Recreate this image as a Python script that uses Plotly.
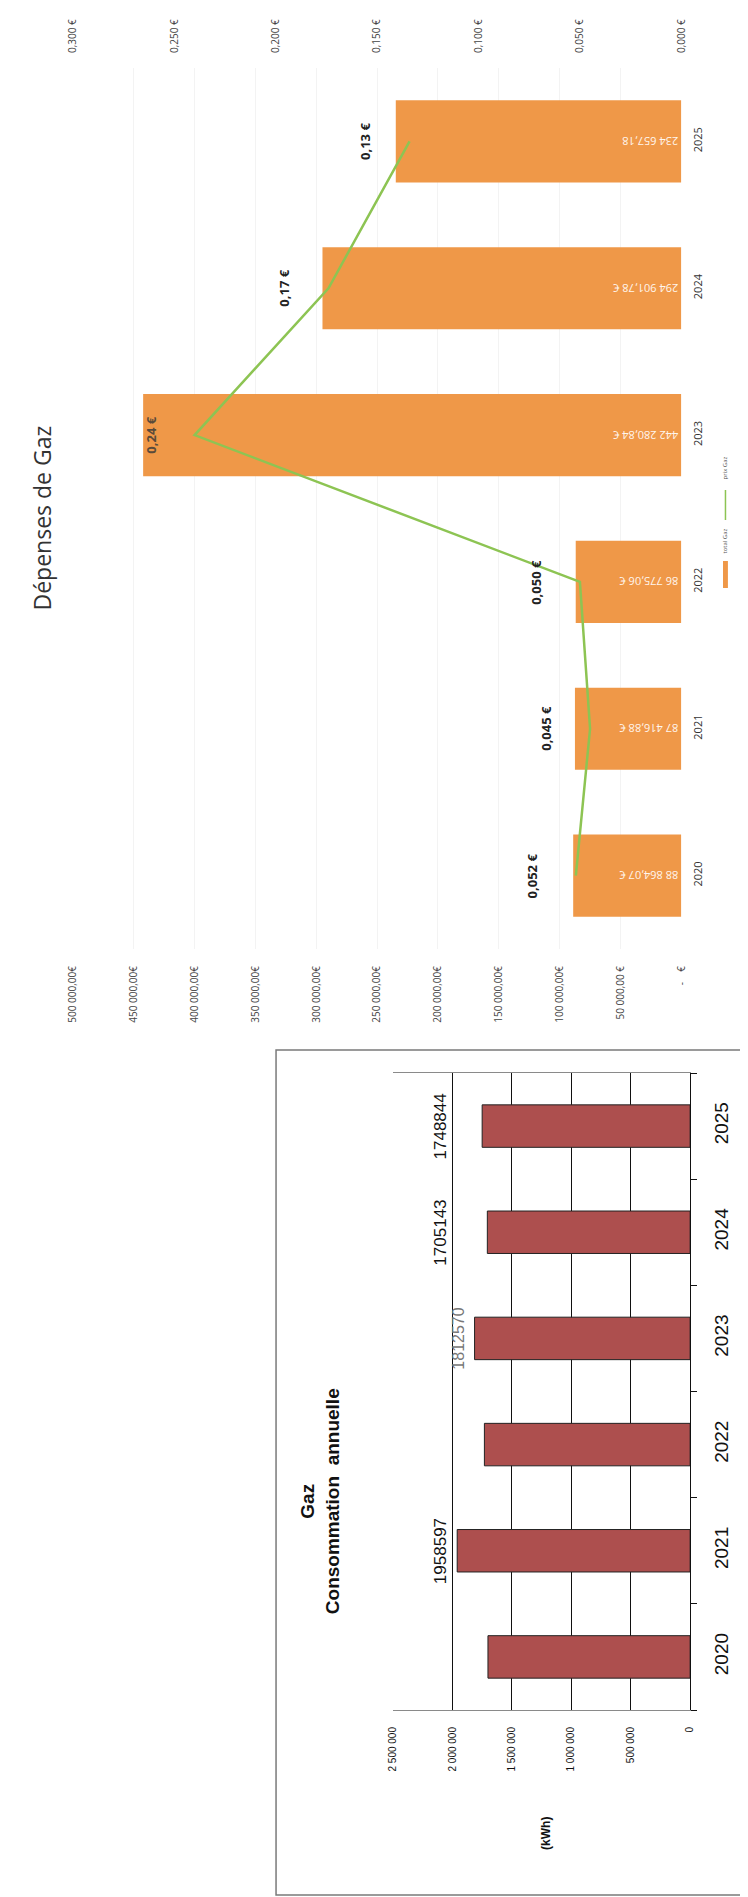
import plotly.graph_objects as go

# ---------------- data ----------------
years = ['2020', '2021', '2022', '2023', '2024', '2025']

# Dépenses de Gaz (bars, €)
depenses = [88864.07, 87416.88, 86775.06, 442280.84, 294901.78, 234657.18]
depenses_labels = ['88 864,07 €', '87 416,88 €', '86 775,06 €', '442 280,84 €', '294 901,78 €', '234 657,18']

# prix du kWh gaz (line, €)
prix = [0.052, 0.045, 0.050, 0.240, 0.174, 0.134]
prix_labels = ['0,052 €', '0,045 €', '0,050 €', '0,24 €', '0,17 €', '0,13 €']

# Consommation annuelle (kWh)
conso = [1700000, 1958597, 1730000, 1812570, 1705143, 1748844]
conso_labels = ['', '1958597', '', '1812570', '1705143', '1748844']

amount_ticks = [0, 50000, 100000, 150000, 200000, 250000, 300000, 350000, 400000, 450000, 500000]
amount_ticktext = ['-    €', '50 000,00 €', '100 000,00€', '150 000,00€', '200 000,00€', '250 000,00€',
                   '300 000,00€', '350 000,00€', '400 000,00€', '450 000,00€', '500 000,00€']
price_ticks = [0, 0.05, 0.10, 0.15, 0.20, 0.25, 0.30]
price_ticktext = ['0,000 €', '0,050 €', '0,100 €', '0,150 €', '0,200 €', '0,250 €', '0,300 €']
kwh_ticks = [0, 500000, 1000000, 1500000, 2000000, 2500000]
kwh_ticktext = ['0', '500 000', '1 000 000', '1 500 000', '2 000 000', '2 500 000']

# ---------------- layout helpers ----------------
W, H = 748, 1897
def px(v):
    return v / W
def py(v):
    return 1 - v / H

ORANGE = '#ef9848'
GREEN = '#8dc453'
RED = '#ad4f4e'
FONT_TOP = 'Open Sans'
FONT_BOT = 'Liberation Sans'
CAT_RANGE = [-0.5, len(years) - 0.5]

fig = go.Figure()

# Top chart: bars (amount)
fig.add_trace(go.Bar(
    y=years, x=depenses, orientation='h',
    xaxis='x', yaxis='y',
    marker=dict(color=ORANGE, line=dict(width=0)),
    text=depenses_labels, textposition='inside', insidetextanchor='start',
    textangle=180, textfont=dict(color='#fff6ee', size=11, family='Liberation Sans Narrow, Open Sans'),
    constraintext='none',
    name='total Gaz', showlegend=False,
))

# Top chart: price line
fig.add_trace(go.Scatter(
    y=years, x=prix, xaxis='x2', yaxis='y',
    mode='lines', line=dict(color=GREEN, width=2.5),
    name='prix Gaz', showlegend=False,
))

# Bottom chart: consumption bars
fig.add_trace(go.Bar(
    y=years, x=conso, orientation='h',
    xaxis='x3', yaxis='y3', width=0.4,
    marker=dict(color=RED, line=dict(color='#222222', width=1)),
    showlegend=False,
))

annotations = []

# price labels (category axis -> use category index)
for i, (pv, lab) in enumerate(zip(prix, prix_labels)):
    annotations.append(dict(
        x=pv, y=i, xref='x2', yref='y', text='<b>' + lab + '</b>',
        xanchor='center', yanchor='middle',
        showarrow=False, textangle=-90, xshift=-44,
        font=dict(size=13, family=FONT_TOP, color='#5a4a3a' if years[i] == '2023' else '#222222'),
    ))

# consumption labels
label_x = 2100000
for i, lab in enumerate(conso_labels):
    if not lab:
        continue
    special = (years[i] == '2023')
    annotations.append(dict(
        x=1950000 if special else label_x, y=i, xref='x3', yref='y3', text=lab,
        xanchor='center', yanchor='middle',
        showarrow=False, textangle=-90,
        font=dict(size=16 if special else 17, family=FONT_BOT,
                  color='#777777' if special else '#111111'),
    ))

def paper_text(x, y, text, size, family, color):
    annotations.append(dict(
        x=px(x), y=py(y), xref='paper', yref='paper', text=text,
        xanchor='center', yanchor='middle', showarrow=False, textangle=-90,
        font=dict(size=size, family=family, color=color),
    ))

# titles
paper_text(26, 510, 'Dépenses de Gaz', 23, FONT_TOP, '#333333')
paper_text(310, 1493, '<b>Gaz</b><br><b>Consommation  annuelle</b>', 19, FONT_BOT, '#111111')
paper_text(540, 1825, '<b>(kWh)</b>', 12, FONT_BOT, '#111111')

# legend (rotated)
paper_text(723, 533, 'total Gaz', 6, FONT_TOP, '#555555')
paper_text(723, 460, 'prix Gaz', 6, FONT_TOP, '#555555')

shapes = [
    # legend swatches
    dict(type='rect', xref='paper', yref='paper', x0=px(720.5), x1=px(725.5),
         y0=py(580), y1=py(553), fillcolor=ORANGE, line=dict(width=0)),
    dict(type='line', xref='paper', yref='paper', x0=px(723), x1=px(723),
         y0=py(512), y1=py(482), line=dict(color=GREEN, width=1.5)),
    # outer frame of the consumption chart
    dict(type='rect', xref='paper', yref='paper', x0=px(265), x1=px(743),
         y0=py(1887), y1=py(1042), line=dict(color='#7a7a7a', width=1.5)),
]

fig.update_layout(
    width=W, height=H,
    margin=dict(l=0, r=0, t=0, b=0),
    paper_bgcolor='white', plot_bgcolor='rgba(0,0,0,0)',
    separators=', ',
    bargap=0.44,
    annotations=annotations,
    shapes=shapes,
    xaxis=dict(
        domain=[px(58), px(678)], range=[500000, 0], anchor='y', side='bottom',
        tickvals=amount_ticks, ticktext=amount_ticktext, tickangle=-90,
        tickfont=dict(size=10, family=FONT_TOP, color='#444444'),
        showgrid=True, gridcolor='#f3f3f3', gridwidth=1, zeroline=False,
        showline=False, ticks='', ticklabelstandoff=14,
    ),
    xaxis2=dict(
        overlaying='x', range=[0.3, 0], anchor='y', side='top',
        tickvals=price_ticks, ticktext=price_ticktext, tickangle=-90,
        tickfont=dict(size=10, family=FONT_TOP, color='#444444'),
        showgrid=False, zeroline=False, showline=False, ticks='', ticklabelstandoff=14,
    ),
    yaxis=dict(
        domain=[py(941), py(60)], anchor='x', side='right', type='category',
        categoryorder='array', categoryarray=years, range=CAT_RANGE, autorange=False,
        tickangle=-90, tickfont=dict(size=11, family=FONT_TOP, color='#333333'),
        showgrid=False, zeroline=False, showline=False, ticks='', ticklabelstandoff=9,
    ),
    xaxis3=dict(
        domain=[px(384), px(687)], range=[2500000, 0], anchor='y3', side='bottom',
        tickvals=kwh_ticks, ticktext=kwh_ticktext, tickangle=-90,
        tickfont=dict(size=10, family=FONT_BOT, color='#111111'),
        showgrid=True, gridcolor='#111111', gridwidth=1, zeroline=False,
        showline=True, linecolor='#8a8a8a', linewidth=1, mirror=True,
        ticks='', ticklabelstandoff=12,
    ),
    yaxis3=dict(
        domain=[py(1702), py(1065)], anchor='x3', side='right', type='category',
        categoryorder='array', categoryarray=years, range=CAT_RANGE, autorange=False,
        tickangle=-90, tickfont=dict(size=19, family=FONT_BOT, color='#111111'),
        showgrid=False, zeroline=False, showline=True, linecolor='#111111', linewidth=1,
        ticks='outside', tickson='boundaries', ticklen=6, tickcolor='#111111',
        ticklabelstandoff=14,
    ),
)

fig.write_html('out.html')
